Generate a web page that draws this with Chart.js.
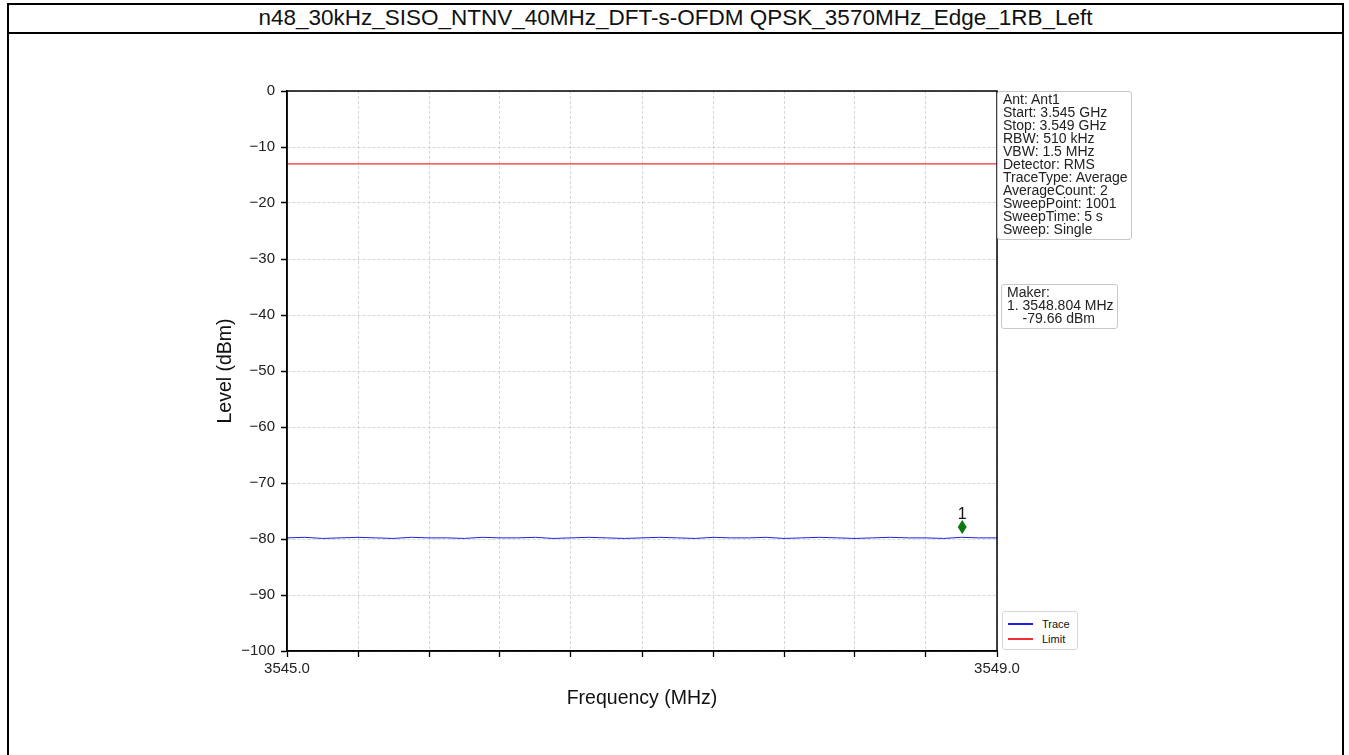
<!DOCTYPE html>
<html>
<head>
<meta charset="utf-8">
<script src="https://cdn.jsdelivr.net/npm/chart.js@4/dist/chart.umd.min.js"></script>
<style>
  html, body { margin: 0; padding: 0; background: #fff; }
  body { width: 1349px; height: 755px; position: relative; overflow: hidden; font-family: "Liberation Sans", Arial, sans-serif; }
  #frame { position: absolute; left: 7px; top: 3px; width: 1337px; height: 800px; border: 2px solid #000; box-sizing: border-box; }
  #titleBar { position: absolute; left: 7px; top: 3px; width: 1337px; height: 31px; border-bottom: 2px solid #000; box-sizing: border-box;
    text-align: center; font-size: 22.5px; line-height: 29px; color: #111; }
  #chartWrap { position: absolute; left: 0; top: 0; width: 1349px; height: 755px; }
  .infoBox { position: absolute; border: 1px solid #c8c8c8; border-radius: 3px; background: #fff; font-size: 14px; line-height: 13px;
    color: #222; padding: 1px 3px 3px 5px; white-space: pre; }
  #legendBox { position: absolute; border: 1px solid #d6d6d6; border-radius: 3px; background: #fff; font-size: 11px; color: #111; padding: 4px 7px 3px 5px; }
  #legendBox .row { display: flex; align-items: center; height: 15px; }
  #legendBox .swatch { width: 25px; height: 0; border-top: 2px solid; margin-right: 9px; }
</style>
</head>
<body>
<div id="frame"></div>
<div id="titleBar">n48_30kHz_SISO_NTNV_40MHz_DFT-s-OFDM QPSK_3570MHz_Edge_1RB_Left</div>
<div id="chartWrap"><canvas id="spectrum" width="1349" height="755"></canvas></div>
<div class="infoBox" id="settingsBox" style="left:997px; top:91px;"></div>
<div class="infoBox" id="makerBox" style="left:1001px; top:284px;"></div>
<div id="legendBox" style="left:1002px; top:611px;"></div>
<script>
// sweep settings, marker and data
const settingsLines = ['Ant: Ant1', 'Start: 3.545 GHz', 'Stop: 3.549 GHz', 'RBW: 510 kHz', 'VBW: 1.5 MHz', 'Detector: RMS',
  'TraceType: Average', 'AverageCount: 2', 'SweepPoint: 1001', 'SweepTime: 5 s', 'Sweep: Single'];
const makerLines = ['Maker:', '1. 3548.804 MHz', '    -79.66 dBm'];

const traceFreq = [3545.0, 3545.1, 3545.2, 3545.3, 3545.4, 3545.5, 3545.6, 3545.7, 3545.8, 3545.9,
  3546.0, 3546.1, 3546.2, 3546.3, 3546.4, 3546.5, 3546.6, 3546.7, 3546.8, 3546.9,
  3547.0, 3547.1, 3547.2, 3547.3, 3547.4, 3547.5, 3547.6, 3547.7, 3547.8, 3547.9,
  3548.0, 3548.1, 3548.2, 3548.3, 3548.4, 3548.5, 3548.6, 3548.7, 3548.8, 3548.9, 3549.0];
const traceLevel = [-79.8, -79.7, -79.9, -79.8, -79.7, -79.8, -79.9, -79.7, -79.8, -79.8,
  -79.9, -79.7, -79.8, -79.8, -79.7, -79.9, -79.8, -79.7, -79.8, -79.9,
  -79.8, -79.7, -79.8, -79.9, -79.7, -79.8, -79.8, -79.7, -79.9, -79.8,
  -79.7, -79.8, -79.9, -79.8, -79.7, -79.8, -79.8, -79.9, -79.7, -79.8, -79.8];
const limitFreq = [3545.0, 3549.0];
const limitLevel = [-13, -13];
const markerFreq = [3548.804];
const markerLevel = [-79.66];
const markerNames = ['1'];
const xTickLabels = ['3545.0', '3549.0'];

document.getElementById('settingsBox').textContent = settingsLines.join('\n');
document.getElementById('makerBox').textContent = makerLines.join('\n');

const FONT = "'Liberation Sans', Arial, sans-serif";

// plot frame + marker diamond (drawn a little above the trace like the analyzer does)
const framePlugin = {
  id: 'framePlugin',
  afterDatasetsDraw(chart) {
    const {ctx, chartArea: a, scales} = chart;
    ctx.save();
    markerFreq.forEach((f, i) => {
      const x = scales.x.getPixelForValue(f);
      const y = scales.y.getPixelForValue(markerLevel[i]) - 10;
      ctx.fillStyle = '#0b7a0b';
      ctx.beginPath();
      ctx.moveTo(x, y - 7);
      ctx.lineTo(x + 4.5, y);
      ctx.lineTo(x, y + 7);
      ctx.lineTo(x - 4.5, y);
      ctx.closePath();
      ctx.fill();
      ctx.fillStyle = '#111';
      ctx.font = '16px ' + FONT;
      ctx.textAlign = 'center';
      ctx.textBaseline = 'bottom';
      ctx.fillText(markerNames[i], x, y - 5);
    });
    ctx.strokeStyle = '#000';
    ctx.lineWidth = 1.5;
    ctx.strokeRect(a.left, a.top, a.right - a.left, a.bottom - a.top);
    ctx.restore();
  }
};

const chart = new Chart(document.getElementById('spectrum'), {
  type: 'line',
  data: {
    datasets: [{
      label: 'Trace',
      data: traceFreq.map((f, i) => ({x: f, y: traceLevel[i]})),
      borderColor: '#2020e0',
      borderWidth: 1,
      pointRadius: 0,
      tension: 0
    }, {
      label: 'Limit',
      data: limitFreq.map((f, i) => ({x: f, y: limitLevel[i]})),
      borderColor: '#f03030',
      borderWidth: 1.2,
      pointRadius: 0
    }]
  },
  options: {
    responsive: false,
    animation: false,
    layout: {padding: {left: 212, right: 352, top: 91, bottom: 30}},
    plugins: {legend: {display: false}, tooltip: {enabled: false}},
    scales: {
      x: {
        type: 'linear',
        min: 3545,
        max: 3549,
        afterFit(scale) { scale.height = 74; },
        afterBuildTicks(scale) {
          scale.ticks = [];
          for (let v = 0; v <= 10; v++) scale.ticks.push({value: 3545 + v * 0.4});
        },
        ticks: {
          autoSkip: false,
          maxRotation: 0,
          padding: 3,
          color: '#222',
          font: {family: FONT, size: 15},
          callback: (v, i, t) => i === 0 ? xTickLabels[0] : (i === t.length - 1 ? xTickLabels[1] : '')
        },
        grid: {color: '#cccccc', lineWidth: 0.8, tickLength: 6, tickColor: '#000', tickWidth: 1.3, tickBorderDash: [1, 0]},
        border: {display: true, color: '#000', width: 1.5, dash: [3, 2]},
        title: {display: true, text: 'Frequency (MHz)', color: '#111', font: {family: FONT, size: 19.5}, padding: {top: 0, bottom: 15}}
      },
      y: {
        min: -100,
        max: 0,
        afterFit(scale) { scale.width = 75; },
        ticks: {
          stepSize: 10,
          padding: 6,
          color: '#222',
          font: {family: FONT, size: 15},
          callback: v => String(v).replace('-', '\u2212')
        },
        grid: {color: '#cccccc', lineWidth: 0.8, tickLength: 6, tickColor: '#000', tickWidth: 1.3, tickBorderDash: [1, 0]},
        border: {display: true, color: '#000', width: 1.5, dash: [3, 2]},
        title: {display: true, text: 'Level (dBm)', color: '#111', font: {family: FONT, size: 19.5}, padding: {top: 2, bottom: 0}}
      }
    }
  },
  plugins: [framePlugin]
});

// legend box built from the chart datasets
const legendBox = document.getElementById('legendBox');
chart.data.datasets.forEach(ds => {
  const row = document.createElement('div');
  row.className = 'row';
  row.innerHTML = '<span class="swatch" style="border-color:' + ds.borderColor + '"></span>' + ds.label;
  legendBox.appendChild(row);
});
</script>
</body>
</html>
